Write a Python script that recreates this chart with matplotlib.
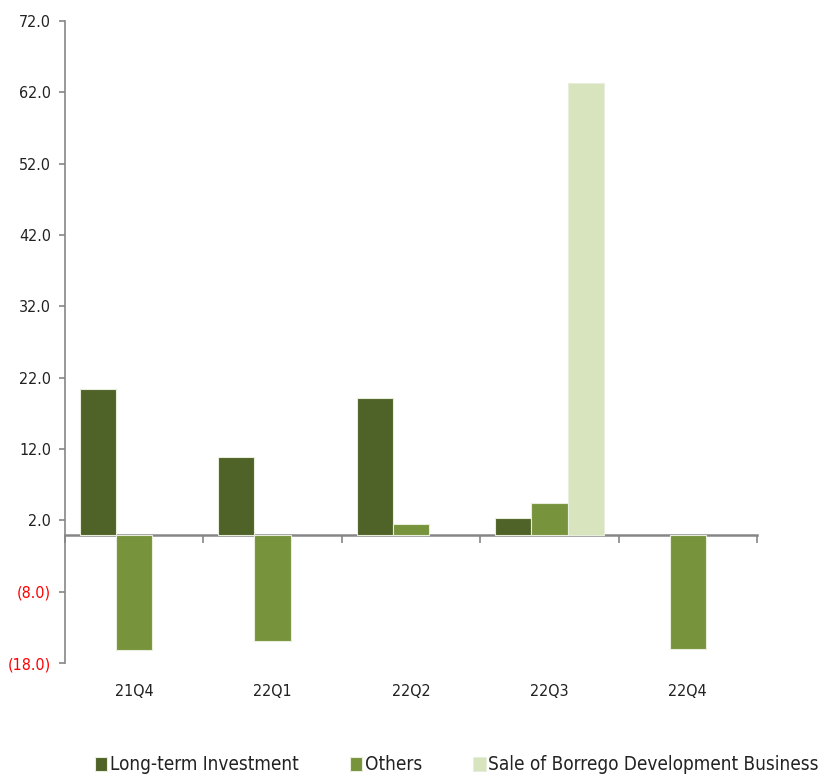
import matplotlib
matplotlib.use("Agg")
import matplotlib.pyplot as plt
import numpy as np
from matplotlib.ticker import FixedLocator, FuncFormatter

plt.rcParams['font.family'] = ['DejaVu Sans']
plt.rcParams['font.stretch'] = 'condensed'

categories = ["21Q4", "22Q1", "22Q2", "22Q3", "22Q4"]
long_term = [20.4, 10.9, 19.1, 2.3, np.nan]
others = [-16.2, -14.9, 1.5, 4.5, -16.1]
sale_borrego = [np.nan, np.nan, np.nan, 63.3, np.nan]
series_names = ["Long-term Investment", "Others", "Sale of Borrego Development Business"]
colors = ["#4F6228", "#77933C", "#D7E4BD"]
yticks = [-18, -8, 2, 12, 22, 32, 42, 52, 62, 72]

fig = plt.figure(figsize=(8.19, 7.80), dpi=100)
ax = fig.add_axes([65/819, (780-663)/780, (757-65)/819, (663-21)/780])

x = np.arange(len(categories))
w = 0.262
handles = []
for i, (vals, name, c) in enumerate(zip([long_term, others, sale_borrego], series_names, colors)):
    h = ax.bar(x + (i - 1) * w, vals, width=w, color=c, edgecolor="#E8EEDC", linewidth=0.8, label=name, zorder=2)
    handles.append(h)

ax.set_xlim(-0.5, len(categories) - 0.5)
ax.set_ylim(-18, 72)

grey = "#868686"
for s in ["top", "right", "bottom"]:
    ax.spines[s].set_visible(False)
ax.spines["left"].set_color(grey)
ax.spines["left"].set_linewidth(1.2)

ax.yaxis.set_major_locator(FixedLocator(yticks))
def fmt(v, pos):
    return f"({abs(v):.1f})" if v < 0 else f"{v:.1f}"
ax.yaxis.set_major_formatter(FuncFormatter(fmt))
ax.tick_params(axis="y", direction="out", length=4.5, width=1.2, color=grey, labelsize=11.5, pad=5.5, labelcolor="#222222")
for lbl, v in zip(ax.get_yticklabels(), yticks):
    if v < 0:
        lbl.set_color("red")

ax.set_xticks(x)
ax.set_xticklabels(categories)
ax.tick_params(axis="x", length=0, labelsize=11.5, pad=15, labelcolor="#222222")

frac0 = (0 - (-18)) / 90
sec = ax.secondary_xaxis(frac0)
sec.set_xticks(np.arange(len(categories) + 1) - 0.5)
sec.set_xticklabels([])
sec.tick_params(direction="out", length=6, width=1.2, color=grey)
sec.spines["bottom"].set_color(grey)
sec.spines["bottom"].set_linewidth(1.8)

fig.legend(handles=handles, labels=series_names, loc="center", bbox_to_anchor=(457/819, 15/780),
           ncol=3, frameon=False, fontsize=13.6, handlelength=0.65, handleheight=0.7,
           handletextpad=0.15, columnspacing=2.7, borderpad=0.2, labelcolor="#222222")

fig.savefig("out.png", dpi=100)
